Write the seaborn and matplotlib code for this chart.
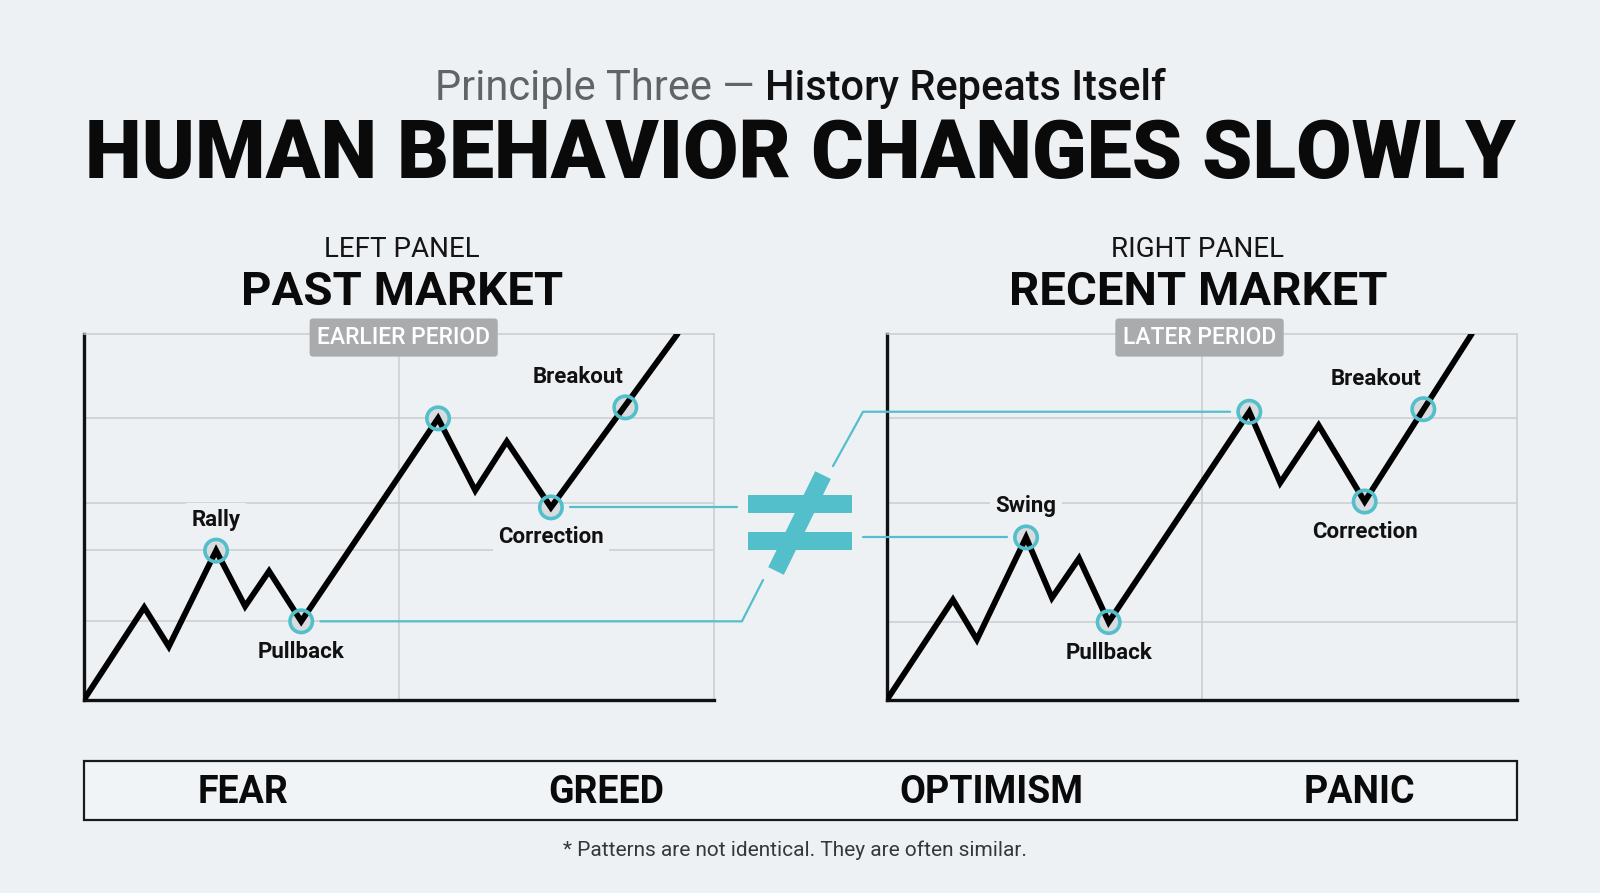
import numpy as np
import pandas as pd
import seaborn as sns
import matplotlib.pyplot as plt
from matplotlib.lines import Line2D
from matplotlib.patches import Rectangle

# zigzag price paths (axis units 0-100)
past_x = [0, 9.6, 13.5, 21.0, 25.6, 29.4, 34.5, 56.2, 62.1, 67.1, 74.1, 94.2]
past_y = [0, 25.3, 14.6, 40.8, 25.6, 35.2, 21.5, 76.9, 57.2, 70.6, 52.6, 100]
recent_x = [0, 10.5, 14.3, 22.1, 26.2, 30.5, 35.2, 57.5, 62.4, 68.5, 75.8, 92.8]
recent_y = [0, 27.4, 16.5, 44.4, 27.9, 38.7, 21.3, 78.7, 59.3, 75.0, 54.2, 100]

# circled points
past_pts_x = [21.0, 34.5, 56.2, 74.1, 85.9]
past_pts_y = [40.8, 21.5, 76.9, 52.6, 79.9]
past_names = ['Rally', 'Pullback', '', 'Correction', 'Breakout']
recent_pts_x = [22.1, 35.2, 57.5, 75.8, 85.1]
recent_pts_y = [44.4, 21.3, 78.7, 54.2, 79.4]
recent_names = ['Swing', 'Pullback', '', 'Correction', 'Breakout']

past_grid_y = [21.5, 40.9, 53.8, 76.9]
recent_grid_y = [21.3, 53.8, 76.9]

emotions = ['FEAR', 'GREED', 'OPTIMISM', 'PANIC']

BG = '#eef1f4'
TEAL = '#52bfcb'
GRID = '#c9ccd0'

sns.set_theme(style='white', rc={'figure.facecolor': BG, 'axes.facecolor': BG})
plt.rcParams['font.family'] = ['Roboto', 'DejaVu Sans']

fig = plt.figure(figsize=(16, 8.93), dpi=100)

# label offsets in pixels (dx, dy) per point
label_off = {
    'Rally': (0, 31), 'Swing': (0, 31), 'Pullback': (0, -31),
    'Correction': (0, -30), 'Breakout': (-47, 30),
}


def panel(rect, xs, ys, px, py, names, grid_y):
    ax = fig.add_axes(rect)
    df = pd.DataFrame({'x': xs, 'y': ys})
    pts = pd.DataFrame({'x': px, 'y': py})
    # light fill under the line, ring on top
    sns.scatterplot(data=pts, x='x', y='y', s=260, color='#d9dcdf', linewidth=0,
                    ax=ax, zorder=2)
    sns.lineplot(data=df, x='x', y='y', sort=False, color='black', lw=4.2,
                 ax=ax, zorder=3, solid_joinstyle='miter')
    sns.scatterplot(data=pts, x='x', y='y', s=260, facecolor='none',
                    edgecolor=TEAL, linewidth=2.6, ax=ax, zorder=4)
    ax.set_xlim(0, 100)
    ax.set_ylim(0, 100)
    ax.set_xticks([50])
    ax.set_yticks(grid_y)
    ax.grid(True, color=GRID, lw=1.1)
    ax.tick_params(left=False, bottom=False, labelleft=False, labelbottom=False)
    ax.set_xlabel('')
    ax.set_ylabel('')
    for s in ['left', 'bottom']:
        ax.spines[s].set_color('#111111')
        ax.spines[s].set_linewidth(2.4)
    for s in ['top', 'right']:
        ax.spines[s].set_color(GRID)
        ax.spines[s].set_linewidth(1.1)
    for x, y, n in zip(px, py, names):
        if not n:
            continue
        dx, dy = label_off[n]
        ax.annotate(n, (x, y), xytext=(dx, dy), textcoords='offset pixels',
                    ha='center', va='center', fontsize=16, fontweight='bold',
                    color='#111111', zorder=5,
                    bbox=dict(boxstyle='square,pad=0.25', fc=BG, ec='none'))
    return ax


ax1 = panel([0.0523, 0.216, 0.3941, 0.4103], past_x, past_y,
            past_pts_x, past_pts_y, past_names, past_grid_y)
ax2 = panel([0.5542, 0.216, 0.3941, 0.4103], recent_x, recent_y,
            recent_pts_x, recent_pts_y, recent_names, recent_grid_y)

# headings
renderer = fig.canvas.get_renderer()
t1 = fig.text(0, 0.9006, 'Principle Three \u2014 ', fontsize=30, fontweight='normal',
              color='#606468', va='center', ha='left')
t2 = fig.text(0, 0.9006, 'History Repeats Itself', fontsize=30, fontweight='medium',
              color='#111111', va='center', ha='left')
w1 = t1.get_window_extent(renderer).width
w2 = t2.get_window_extent(renderer).width
W = fig.bbox.width
x0 = (W - w1 - w2) / 2
t1.set_x(x0 / W)
t2.set_x((x0 + w1) / W)

fig.text(0.5, 0.825, 'HUMAN BEHAVIOR CHANGES SLOWLY', fontsize=58, fontweight='black',
         color='#0a0a0a', ha='center', va='center')

for cx, small, big, badge in [(0.2513, 'LEFT PANEL', 'PAST MARKET', 'EARLIER PERIOD'),
                              (0.7487, 'RIGHT PANEL', 'RECENT MARKET', 'LATER PERIOD')]:
    fig.text(cx, 0.721, small, fontsize=20, fontweight='normal', color='#151515',
             ha='center', va='center')
    fig.text(cx, 0.673, big, fontsize=34, fontweight='bold', color='#0a0a0a',
             ha='center', va='center')
    fig.text(cx + 0.001, 0.622, badge, fontsize=16.5, fontweight='medium', color='white',
             ha='center', va='center', zorder=10,
             bbox=dict(boxstyle='round,pad=0.33,rounding_size=0.15', fc='#a9abad', ec='none'))

# connectors between the panels
to_fig = lambda ax, x, y: fig.transFigure.inverted().transform(ax.transData.transform((x, y)))
cx_, cy_ = to_fig(ax1, past_pts_x[3], past_pts_y[3])
px_, py_ = to_fig(ax1, past_pts_x[1], past_pts_y[1])
sx_, sy_ = to_fig(ax2, recent_pts_x[0], recent_pts_y[0])
kx_, ky_ = to_fig(ax2, recent_pts_x[2], recent_pts_y[2])
ckw = dict(color=TEAL, lw=1.6, transform=fig.transFigure, zorder=6)
fig.add_artist(Line2D([cx_ + 0.012, 0.4605], [cy_, cy_], **ckw))
fig.add_artist(Line2D([px_ + 0.012, 0.4637, 0.4769], [py_, py_, 0.3505], **ckw))
fig.add_artist(Line2D([sx_ - 0.012, 0.5395], [sy_, sy_], **ckw))
fig.add_artist(Line2D([kx_ - 0.012, 0.5394, 0.5206], [ky_, ky_, 0.478], **ckw))

# not-equal sign
for yb in [0.4255, 0.3841]:
    fig.add_artist(Rectangle((0.4675, yb), 0.065, 0.0202, transform=fig.transFigure,
                             fc=TEAL, ec='none', zorder=7))
fig.add_artist(Line2D([0.485, 0.5144], [0.3606, 0.468], color=TEAL, lw=12.5,
                      solid_capstyle='butt', transform=fig.transFigure, zorder=7))

# emotion bar
fig.add_artist(Rectangle((0.0523, 0.0823), 0.896, 0.0651, transform=fig.transFigure,
                         fc='#f1f4f6', ec='#1a1a1a', lw=1.6, zorder=2))
for x, e in zip([0.1518, 0.3788, 0.6193, 0.8495], emotions):
    fig.text(x, 0.1131, e, fontsize=27, fontweight='bold', color='#0a0a0a',
             ha='center', va='center', zorder=3)

fig.text(0.4968, 0.048, '* Patterns are not identical. They are often similar.',
         fontsize=15, color='#35383b', ha='center', va='center')

fig.savefig('out.png', dpi=100, facecolor=BG)
